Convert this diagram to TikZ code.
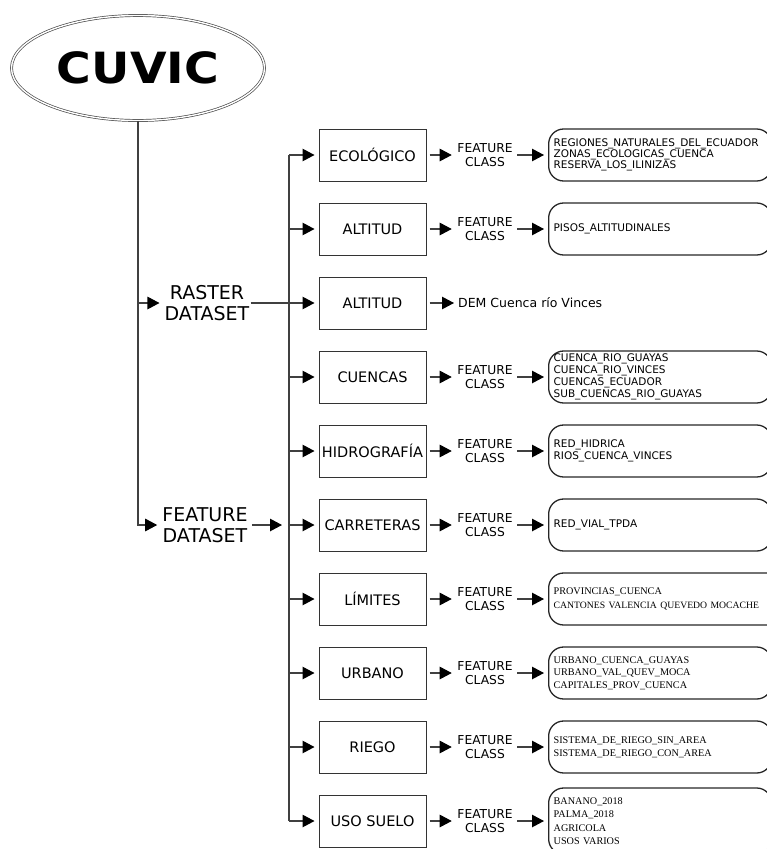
\documentclass[tikz,border=0pt]{standalone}
\usepackage{fontspec}
\setmainfont{DejaVu Sans}
\newfontfamily\tiposerif{Liberation Serif}
\usetikzlibrary{arrows.meta,shapes.geometric,positioning}

\tikzset{
    tipo/.style={rectangle, draw=black!80, line width=1pt, minimum width=107pt, minimum height=52pt, inner sep=1pt, font=\fontsize{14.5}{16}\selectfont},
    fclass/.style={align=center, inner xsep=1.5pt, font=\fontsize{12.3}{14}\selectfont},
    dataset/.style={align=center, inner sep=1pt, font=\fontsize{19}{21.5}\selectfont},
    capas/.style={rectangle, draw=black!85, line width=1.3pt, rounded corners=15pt, anchor=west, minimum height=52pt, text width=213pt, inner xsep=5pt, inner ysep=2pt, align=left, font=\fontsize{10.5}{11.5}\selectfont},
    capasserif/.style={capas, font=\tiposerif\fontsize{10.2}{13}\selectfont},
    linea/.style={draw=black!75, line width=1.1pt},
    flecha/.style={linea, -{Triangle[length=12pt,width=12.5pt,color=black]}, shorten >=4pt},
    enlace/.style={flecha, shorten <=3pt},
}

\begin{document}
\begin{tikzpicture}[x=1pt, y=-1pt]
    \useasboundingbox (0,0) rectangle (766,849);

    \node at (138,68) [ellipse, draw=black!70, double, double distance=1.4pt, line width=0.7pt, minimum width=253pt, minimum height=105pt, inner sep=0pt, font=\fontsize{43}{45}\selectfont\bfseries] (cuvic) {\scalebox{1.1}[1]{CUVIC}};

    \node at (207,303) [dataset] (raster) {RASTER\\DATASET};
    \node at (205,525) [dataset] (fdata) {FEATURE\\DATASET};
    \coordinate (fdpunta) at (286,525);
    \coordinate (bus) at (289,0);

    % tipos de datos
    \node at (372.5,155) [tipo] (eco) {ECOLÓGICO};
    \node at (372.5,229) [tipo] (alt) {ALTITUD};
    \node at (372.5,303) [tipo] (altr) {ALTITUD};
    \node at (372.5,377) [tipo] (cue) {CUENCAS};
    \node at (372.5,451) [tipo] (hid) {HIDROGRAFÍA};
    \node at (372.5,525) [tipo] (car) {CARRETERAS};
    \node at (372.5,599) [tipo] (lim) {LÍMITES};
    \node at (372.5,673) [tipo] (urb) {URBANO};
    \node at (372.5,747) [tipo] (rie) {RIEGO};
    \node at (372.5,821) [tipo] (uso) {USO SUELO};

    % feature class
    \node at (485,155) [fclass] (fceco) {FEATURE\\CLASS};
    \node at (485,229) [fclass] (fcalt) {FEATURE\\CLASS};
    \node at (458,303) [anchor=west, inner sep=0pt, font=\fontsize{12.5}{14}\selectfont] (dem) {DEM Cuenca río Vinces};
    \node at (485,377) [fclass] (fccue) {FEATURE\\CLASS};
    \node at (485,451) [fclass] (fchid) {FEATURE\\CLASS};
    \node at (485,525) [fclass] (fccar) {FEATURE\\CLASS};
    \node at (485,599) [fclass] (fclim) {FEATURE\\CLASS};
    \node at (485,673) [fclass] (fcurb) {FEATURE\\CLASS};
    \node at (485,747) [fclass] (fcrie) {FEATURE\\CLASS};
    \node at (485,821) [fclass] (fcuso) {FEATURE\\CLASS};

    % capas
    \node at (548,155) [capas, font=\fontsize{10.5}{10.7}\selectfont] (lseco) {REGIONES\_NATURALES\_DEL\_ECUADOR\\ZONAS\_ECOLOGICAS\_CUENCA\\RESERVA\_LOS\_ILINIZAS};
    \node at (548,229) [capas] (lsalt) {PISOS\_ALTITUDINALES};
    \node at (548,377) [capas, font=\fontsize{10.5}{12}\selectfont] (lscue) {CUENCA\_RIO\_GUAYAS\\CUENCA\_RIO\_VINCES\\CUENCAS\_ECUADOR\\SUB\_CUENCAS\_RIO\_GUAYAS};
    \node at (548,451) [capas, font=\fontsize{10.5}{12}\selectfont] (lshid) {RED\_HIDRICA\\RIOS\_CUENCA\_VINCES};
    \node at (548,525) [capas] (lscar) {RED\_VIAL\_TPDA};
    \node at (548,599) [capasserif, text width=250pt, font=\tiposerif\fontsize{10.2}{14}\selectfont] (lslim) {PROVINCIAS\_CUENCA\\{\fontsize{9.7}{14}\selectfont CANTONES VALENCIA QUEVEDO MOCACHE}};
    \node at (548,673) [capasserif, font=\tiposerif\fontsize{10.2}{12.5}\selectfont] (lsurb) {URBANO\_CUENCA\_GUAYAS\\URBANO\_VAL\_QUEV\_MOCA\\CAPITALES\_PROV\_CUENCA};
    \node at (548,747) [capasserif] (lsrie) {SISTEMA\_DE\_RIEGO\_SIN\_AREA\\SISTEMA\_DE\_RIEGO\_CON\_AREA};
    \node at (548,821) [capasserif, minimum height=66pt, font=\tiposerif\fontsize{10.2}{13.5}\selectfont] (lsuso) {BANANO\_2018\\PALMA\_2018\\AGRICOLA\\USOS VARIOS};

    % conectores izquierda
    \draw[flecha] (cuvic.south) |- (fdata.west);
    \draw[flecha] (cuvic.south |- raster.west) -- (raster.west);
    \draw[flecha] (raster.east) -- (altr.west);
    \draw[enlace] (fdata.east) -- (fdpunta);

    % bus
    \draw[linea] (eco.west -| bus) -- (uso.west -| bus);
    \draw[flecha] (eco.west -| bus) -- (eco.west);
    \draw[flecha] (alt.west -| bus) -- (alt.west);
    \draw[flecha] (cue.west -| bus) -- (cue.west);
    \draw[flecha] (hid.west -| bus) -- (hid.west);
    \draw[flecha] (car.west -| bus) -- (car.west);
    \draw[flecha] (lim.west -| bus) -- (lim.west);
    \draw[flecha] (urb.west -| bus) -- (urb.west);
    \draw[flecha] (rie.west -| bus) -- (rie.west);
    \draw[flecha] (uso.west -| bus) -- (uso.west);

    % tipos -> feature class -> capas
    \draw[enlace] (eco) -- (fceco);
    \draw[enlace] (fceco) -- (lseco);
    \draw[enlace] (alt) -- (fcalt);
    \draw[enlace] (fcalt) -- (lsalt);
    \draw[enlace] (altr) -- (dem);
    \draw[enlace] (cue) -- (fccue);
    \draw[enlace] (fccue) -- (lscue);
    \draw[enlace] (hid) -- (fchid);
    \draw[enlace] (fchid) -- (lshid);
    \draw[enlace] (car) -- (fccar);
    \draw[enlace] (fccar) -- (lscar);
    \draw[enlace] (lim) -- (fclim);
    \draw[enlace] (fclim) -- (lslim.west);
    \draw[enlace] (urb) -- (fcurb);
    \draw[enlace] (fcurb) -- (lsurb);
    \draw[enlace] (rie) -- (fcrie);
    \draw[enlace] (fcrie) -- (lsrie);
    \draw[enlace] (uso) -- (fcuso);
    \draw[enlace] (fcuso) -- (lsuso);
\end{tikzpicture}
\end{document}
